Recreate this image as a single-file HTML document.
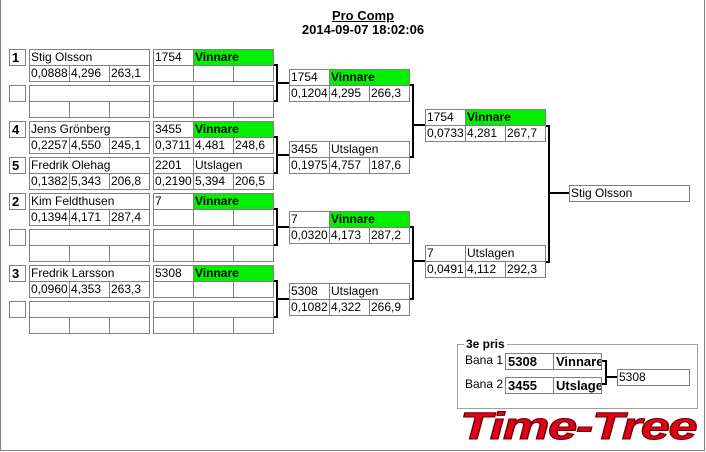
<!DOCTYPE html>
<html><head><meta charset="utf-8"><style>
body{margin:0;width:706px;height:452px;background:#fff;position:relative;overflow:hidden;font-family:"Liberation Sans",sans-serif;font-size:12px;color:#000}
.c{position:absolute;height:17px;box-sizing:border-box;border:1px solid #808080;background:#fff;line-height:15px;padding-left:1px;white-space:nowrap;overflow:hidden}
.g{background:#00f000;font-weight:bold}
.s{font-weight:bold;font-size:13px;padding-left:2px}
</style></head><body>
<div style="position:absolute;left:0;top:0;width:705px;height:451px;border-left:1px solid #808080;border-right:1px solid #808080;border-bottom:1px solid #808080;box-sizing:border-box"></div>
<div style="position:absolute;left:10px;width:706px;top:9px;text-align:center;font-weight:bold;font-size:13px;line-height:14px"><u>Pro Comp</u><br>2014-09-07 18:02:06</div>

<!-- Entry 1 -->
<div class="c s" style="left:9px;top:49px;width:17px">1</div>
<div class="c" style="left:29px;top:49px;width:121px">Stig Olsson</div>
<div class="c" style="left:29px;top:65px;width:41px">0,0888</div><div class="c" style="left:69px;top:65px;width:41px">4,296</div><div class="c" style="left:109px;top:65px;width:41px">263,1</div>
<div class="c" style="left:153px;top:49px;width:41px">1754</div><div class="c g" style="left:193px;top:49px;width:81px">Vinnare</div>
<div class="c" style="left:153px;top:65px;width:41px"></div><div class="c" style="left:193px;top:65px;width:41px"></div><div class="c" style="left:233px;top:65px;width:41px"></div>
<!-- Entry 2 -->
<div class="c s" style="left:9px;top:85px;width:17px"></div>
<div class="c" style="left:29px;top:85px;width:121px"></div>
<div class="c" style="left:29px;top:101px;width:41px"></div><div class="c" style="left:69px;top:101px;width:41px"></div><div class="c" style="left:109px;top:101px;width:41px"></div>
<div class="c" style="left:153px;top:85px;width:41px"></div><div class="c" style="left:193px;top:85px;width:81px"></div>
<div class="c" style="left:153px;top:101px;width:41px"></div><div class="c" style="left:193px;top:101px;width:41px"></div><div class="c" style="left:233px;top:101px;width:41px"></div>
<!-- Entry 3 -->
<div class="c s" style="left:9px;top:121px;width:17px">4</div>
<div class="c" style="left:29px;top:121px;width:121px">Jens Grönberg</div>
<div class="c" style="left:29px;top:137px;width:41px">0,2257</div><div class="c" style="left:69px;top:137px;width:41px">4,550</div><div class="c" style="left:109px;top:137px;width:41px">245,1</div>
<div class="c" style="left:153px;top:121px;width:41px">3455</div><div class="c g" style="left:193px;top:121px;width:81px">Vinnare</div>
<div class="c" style="left:153px;top:137px;width:41px">0,3711</div><div class="c" style="left:193px;top:137px;width:41px">4,481</div><div class="c" style="left:233px;top:137px;width:41px">248,6</div>
<!-- Entry 4 -->
<div class="c s" style="left:9px;top:157px;width:17px">5</div>
<div class="c" style="left:29px;top:157px;width:121px">Fredrik Olehag</div>
<div class="c" style="left:29px;top:173px;width:41px">0,1382</div><div class="c" style="left:69px;top:173px;width:41px">5,343</div><div class="c" style="left:109px;top:173px;width:41px">206,8</div>
<div class="c" style="left:153px;top:157px;width:41px">2201</div><div class="c" style="left:193px;top:157px;width:81px">Utslagen</div>
<div class="c" style="left:153px;top:173px;width:41px">0,2190</div><div class="c" style="left:193px;top:173px;width:41px">5,394</div><div class="c" style="left:233px;top:173px;width:41px">206,5</div>
<!-- Entry 5 -->
<div class="c s" style="left:9px;top:193px;width:17px">2</div>
<div class="c" style="left:29px;top:193px;width:121px">Kim Feldthusen</div>
<div class="c" style="left:29px;top:209px;width:41px">0,1394</div><div class="c" style="left:69px;top:209px;width:41px">4,171</div><div class="c" style="left:109px;top:209px;width:41px">287,4</div>
<div class="c" style="left:153px;top:193px;width:41px">7</div><div class="c g" style="left:193px;top:193px;width:81px">Vinnare</div>
<div class="c" style="left:153px;top:209px;width:41px"></div><div class="c" style="left:193px;top:209px;width:41px"></div><div class="c" style="left:233px;top:209px;width:41px"></div>
<!-- Entry 6 -->
<div class="c s" style="left:9px;top:229px;width:17px"></div>
<div class="c" style="left:29px;top:229px;width:121px"></div>
<div class="c" style="left:29px;top:245px;width:41px"></div><div class="c" style="left:69px;top:245px;width:41px"></div><div class="c" style="left:109px;top:245px;width:41px"></div>
<div class="c" style="left:153px;top:229px;width:41px"></div><div class="c" style="left:193px;top:229px;width:81px"></div>
<div class="c" style="left:153px;top:245px;width:41px"></div><div class="c" style="left:193px;top:245px;width:41px"></div><div class="c" style="left:233px;top:245px;width:41px"></div>
<!-- Entry 7 -->
<div class="c s" style="left:9px;top:265px;width:17px">3</div>
<div class="c" style="left:29px;top:265px;width:121px">Fredrik Larsson</div>
<div class="c" style="left:29px;top:281px;width:41px">0,0960</div><div class="c" style="left:69px;top:281px;width:41px">4,353</div><div class="c" style="left:109px;top:281px;width:41px">263,3</div>
<div class="c" style="left:153px;top:265px;width:41px">5308</div><div class="c g" style="left:193px;top:265px;width:81px">Vinnare</div>
<div class="c" style="left:153px;top:281px;width:41px"></div><div class="c" style="left:193px;top:281px;width:41px"></div><div class="c" style="left:233px;top:281px;width:41px"></div>
<!-- Entry 8 -->
<div class="c s" style="left:9px;top:301px;width:17px"></div>
<div class="c" style="left:29px;top:301px;width:121px"></div>
<div class="c" style="left:29px;top:317px;width:41px"></div><div class="c" style="left:69px;top:317px;width:41px"></div><div class="c" style="left:109px;top:317px;width:41px"></div>
<div class="c" style="left:153px;top:301px;width:41px"></div><div class="c" style="left:193px;top:301px;width:81px"></div>
<div class="c" style="left:153px;top:317px;width:41px"></div><div class="c" style="left:193px;top:317px;width:41px"></div><div class="c" style="left:233px;top:317px;width:41px"></div>

<!-- Round 2 -->
<div class="c" style="left:289px;top:69px;width:41px">1754</div><div class="c g" style="left:329px;top:69px;width:81px">Vinnare</div>
<div class="c" style="left:289px;top:85px;width:41px">0,1204</div><div class="c" style="left:329px;top:85px;width:41px">4,295</div><div class="c" style="left:369px;top:85px;width:41px">266,3</div>
<div class="c" style="left:289px;top:141px;width:41px">3455</div><div class="c" style="left:329px;top:141px;width:81px">Utslagen</div>
<div class="c" style="left:289px;top:157px;width:41px">0,1975</div><div class="c" style="left:329px;top:157px;width:41px">4,757</div><div class="c" style="left:369px;top:157px;width:41px">187,6</div>
<div class="c" style="left:289px;top:211px;width:41px">7</div><div class="c g" style="left:329px;top:211px;width:81px">Vinnare</div>
<div class="c" style="left:289px;top:227px;width:41px">0,0320</div><div class="c" style="left:329px;top:227px;width:41px">4,173</div><div class="c" style="left:369px;top:227px;width:41px">287,2</div>
<div class="c" style="left:289px;top:283px;width:41px">5308</div><div class="c" style="left:329px;top:283px;width:81px">Utslagen</div>
<div class="c" style="left:289px;top:299px;width:41px">0,1082</div><div class="c" style="left:329px;top:299px;width:41px">4,322</div><div class="c" style="left:369px;top:299px;width:41px">266,9</div>
<!-- Round 3 -->
<div class="c" style="left:425px;top:109px;width:41px">1754</div><div class="c g" style="left:465px;top:109px;width:81px">Vinnare</div>
<div class="c" style="left:425px;top:125px;width:41px">0,0733</div><div class="c" style="left:465px;top:125px;width:41px">4,281</div><div class="c" style="left:505px;top:125px;width:41px">267,7</div>
<div class="c" style="left:425px;top:245px;width:41px">7</div><div class="c" style="left:465px;top:245px;width:81px">Utslagen</div>
<div class="c" style="left:425px;top:261px;width:41px">0,0491</div><div class="c" style="left:465px;top:261px;width:41px">4,112</div><div class="c" style="left:505px;top:261px;width:41px">292,3</div>
<!-- Final -->
<div class="c" style="left:569px;top:185px;width:121px">Stig Olsson</div>

<svg style="position:absolute;left:0;top:0" width="706" height="452">
<g fill="none" stroke="#000" stroke-width="2">
<polyline points="274,65 277,65 277,101 274,101"/><line x1="277" y1="83" x2="289" y2="83"/>
<polyline points="274,137 277,137 277,173 274,173"/><line x1="277" y1="155" x2="289" y2="155"/>
<polyline points="274,209 277,209 277,245 274,245"/><line x1="277" y1="227" x2="289" y2="227"/>
<polyline points="274,281 277,281 277,317 274,317"/><line x1="277" y1="299" x2="289" y2="299"/>
<polyline points="410,85 413,85 413,157 410,157"/><line x1="413" y1="125" x2="425" y2="125"/>
<polyline points="410,227 413,227 413,299 410,299"/><line x1="413" y1="261" x2="425" y2="261"/>
<polyline points="546,126 549,126 549,262 546,262"/><line x1="549" y1="193" x2="569" y2="193"/>
<polyline points="602,361 606,361 606,384 602,384"/><line x1="606" y1="377" x2="617" y2="377"/>
</g>
<rect x="457.5" y="344.5" width="240" height="64" fill="none" stroke="#a0a0a0"/>
</svg>
<div style="position:absolute;left:464px;top:337px;background:#fff;padding:0 2px;font-weight:bold;font-size:12px">3e pris</div>
<div style="position:absolute;left:465px;top:353px">Bana 1</div>
<div style="position:absolute;left:465px;top:377px">Bana 2</div>
<div class="c s" style="left:505px;top:353px;width:49px">5308</div><div class="c s" style="left:553px;top:353px;width:49px">Vinnare</div>
<div class="c s" style="left:505px;top:377px;width:49px">3455</div><div class="c s" style="left:553px;top:377px;width:49px">Utslagen</div>
<div class="c" style="left:617px;top:369px;width:73px">5308</div>

<div style="position:absolute;left:460px;top:408px;white-space:nowrap;font-family:'Liberation Sans',sans-serif;font-weight:bold;font-style:italic;font-size:38px;line-height:38px;color:#e00018;-webkit-text-stroke:1px #600;transform:scaleX(1.38);transform-origin:left top;letter-spacing:-1px">Time-Tree</div>
</body></html>
